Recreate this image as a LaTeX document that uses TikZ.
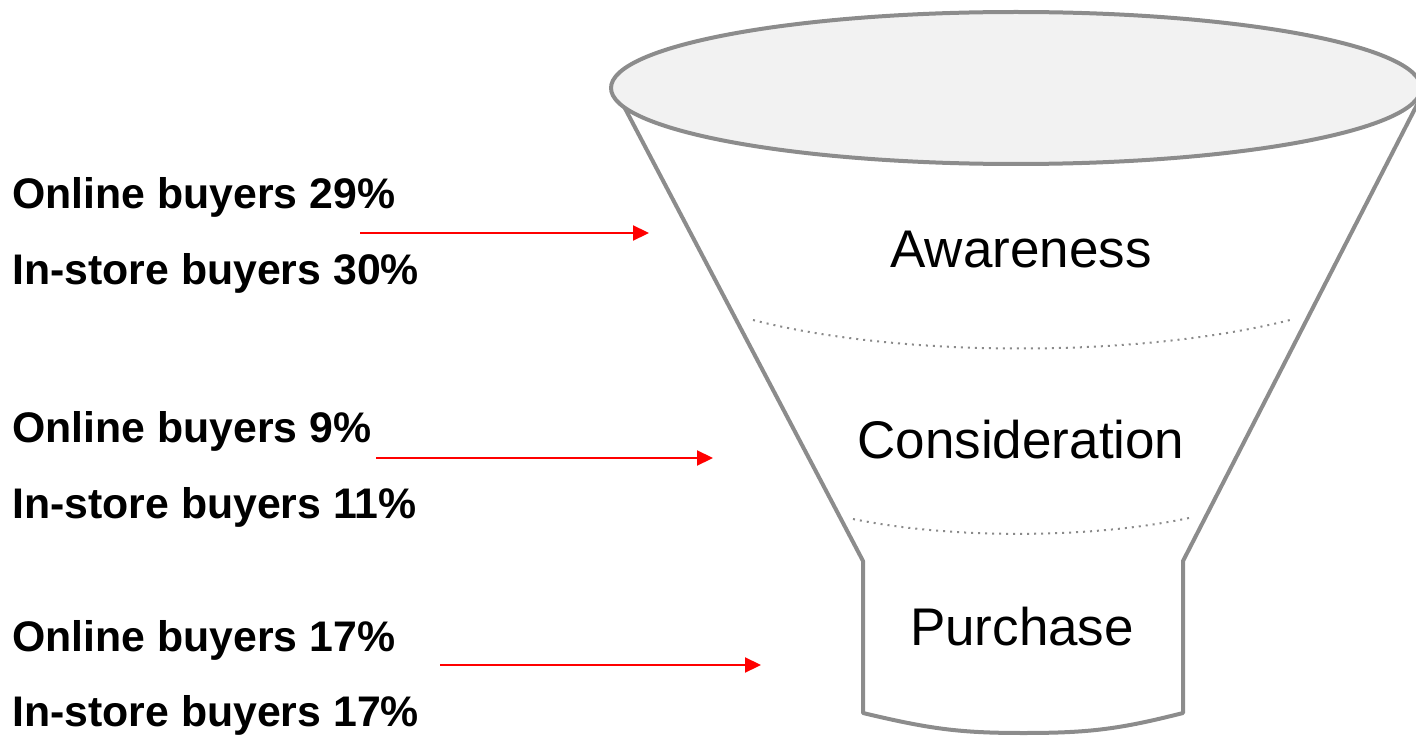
\documentclass[tikz,border=0pt]{standalone}
\usepackage{fontspec}
\setmainfont{Liberation Sans}
\usetikzlibrary{arrows.meta}
\definecolor{rimgray}{HTML}{8C8C8C}
\definecolor{topfill}{HTML}{F2F2F2}
\definecolor{dotgray}{HTML}{8A8A8A}
\tikzset{
  funnelline/.style={draw=rimgray, line width=4pt, line join=round},
  stageline/.style={draw=dotgray, line width=2pt, dash pattern=on 2pt off 5pt},
  stagelabel/.style={anchor=base, inner sep=0pt, font=\fontsize{53}{60}\selectfont},
  sharelabel/.style={anchor=base west, inner sep=0pt, font=\fontsize{42.8}{50}\selectfont\bfseries},
  redarrow/.style={draw=red, line width=2.2pt, -{Triangle[length=16pt,width=15pt]}}
}
\begin{document}
\begin{tikzpicture}[x=1pt, y=-1pt]
\useasboundingbox (0,0) rectangle (1416,738);

% funnel outline: sloping walls, neck and rounded base
\coordinate (wallLtop) at (619,97);
\coordinate (wallLbot) at (863,561);
\coordinate (neckLbot) at (863,713);
\coordinate (neckRbot) at (1183,713);
\coordinate (wallRbot) at (1183,561);
\coordinate (wallRtop) at (1421,97);
\draw[funnelline] (wallLtop) -- (wallLbot) -- (neckLbot)
  .. controls (930,729) and (960,733) .. (1023,733)
  .. controls (1090,733) and (1120,729) .. (neckRbot)
  -- (wallRbot) -- (wallRtop);

% funnel mouth
\draw[funnelline, fill=topfill] (1016,88) ellipse [x radius=405, y radius=76];

% stage boundaries
\coordinate (sepAl) at (753,320);
\coordinate (sepAr) at (1290,320);
\coordinate (sepBl) at (853,519);
\coordinate (sepBr) at (1189,518);
\draw[stageline] (sepAl) .. controls (900,358) and (1140,358) .. (sepAr);
\draw[stageline] (sepBl) .. controls (950,539) and (1090,539) .. (sepBr);

% stage names
\node[stagelabel] (awareness) at (1021,267) {Awareness};
\node[stagelabel] (consideration) at (1021,458) {Consideration};
\node[stagelabel] (purchase) at (1022,645) {Purchase};

% buyer shares
\node[sharelabel] (on1) at (12,208) {Online buyers 29\%};
\node[sharelabel] (in1) at (12,284) {In-store buyers 30\%};
\node[sharelabel] (on2) at (12,442) {Online buyers 9\%};
\node[sharelabel] (in2) at (12,518) {In-store buyers 11\%};
\node[sharelabel] (on3) at (12,651) {Online buyers 17\%};
\node[sharelabel] (in3) at (12,726) {In-store buyers 17\%};

% pointers into the funnel
\coordinate (a1s) at (360,233);
\coordinate (a1e) at (649,233);
\coordinate (a2s) at (376,458);
\coordinate (a2e) at (713,458);
\coordinate (a3s) at (440,665);
\coordinate (a3e) at (761,665);
\draw[redarrow] (a1s) -- (a1e);
\draw[redarrow] (a2s) -- (a2e);
\draw[redarrow] (a3s) -- (a3e);
\end{tikzpicture}
\end{document}
